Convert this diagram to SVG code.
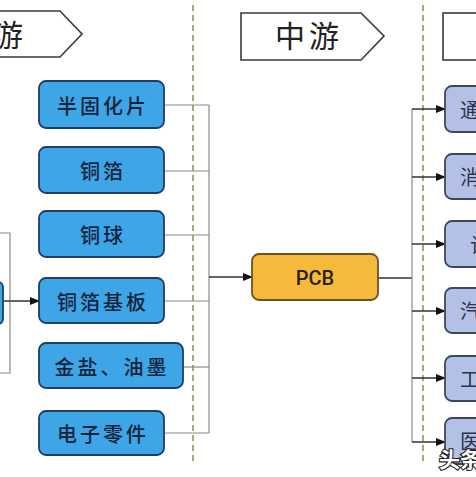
<svg xmlns="http://www.w3.org/2000/svg" width="476" height="477" viewBox="0 0 476 477">
<defs>
<marker id="arr" markerWidth="10" markerHeight="8" refX="9" refY="4" orient="auto" markerUnits="userSpaceOnUse">
<path d="M0,0 L10,4 L0,8 Z" fill="#111"/>
</marker>
<style>
.hdr{fill:#fff;stroke:#3a3a3a;stroke-width:1.6}
.htxt{font-family:"Noto Sans CJK SC",sans-serif;font-size:30px;fill:#222}
.lb{fill:#3EA5E6;stroke:#1E3E63;stroke-width:1.8}
.rb{fill:#B3C1E6;stroke:#3C475F;stroke-width:1.8}
.pcb{fill:#F5BA3C;stroke:#6A5222;stroke-width:1.8}
.t{font-family:"Noto Sans CJK SC",sans-serif;font-size:20px;font-weight:500;fill:#15233A;text-anchor:middle;dominant-baseline:central;letter-spacing:3px}
.rt{font-family:"Noto Sans CJK SC",sans-serif;font-size:20px;fill:#2a3450;dominant-baseline:central}
.dash{stroke:#A9AA72;stroke-width:2;stroke-dasharray:6 4;fill:none}
.ln{stroke:#8a8a8a;stroke-width:1.2;fill:none}
.al{stroke:#333;stroke-width:1.3;fill:none}
</style>
</defs>
<rect width="476" height="477" fill="#fff"/>
<g id="dividers">
<line class="dash" x1="193" y1="5" x2="193" y2="462"/>
<line class="dash" x1="423" y1="5" x2="423" y2="464"/>
</g>
<g id="header-up">
<polygon class="hdr" points="-5,11 60,11 82,34 60,57 -5,57"/>
<text class="htxt" x="-7" y="46">游</text>
</g>
<g id="header-mid">
<polygon class="hdr" points="241,13 361,13 384,36 361,60 241,60"/>
<text class="htxt" x="309" y="47" text-anchor="middle" letter-spacing="4">中游</text>
</g>
<g id="header-down">
<rect class="hdr" x="443" y="13" width="60" height="47"/>
</g>
<g id="connectors">
<polyline class="ln" points="0,233 10,233 10,373 0,373"/>
<line class="al" x1="3" y1="301" x2="39" y2="301" marker-end="url(#arr)"/>
<line class="ln" x1="164" y1="105" x2="209" y2="105"/>
<line class="ln" x1="164" y1="171" x2="209" y2="171"/>
<line class="ln" x1="164" y1="235" x2="209" y2="235"/>
<line class="ln" x1="164" y1="301" x2="209" y2="301"/>
<line class="ln" x1="183" y1="367" x2="209" y2="367"/>
<line class="ln" x1="164" y1="433" x2="209" y2="433"/>
<line class="ln" x1="209" y1="105" x2="209" y2="433"/>
<line class="al" x1="209" y1="277" x2="252" y2="277" marker-end="url(#arr)"/>
<line class="al" x1="378" y1="278" x2="412" y2="278"/>
<line class="ln" x1="412" y1="109" x2="412" y2="442"/>
<line class="al" x1="412" y1="109" x2="445" y2="109" marker-end="url(#arr)"/>
<line class="al" x1="412" y1="177" x2="445" y2="177" marker-end="url(#arr)"/>
<line class="al" x1="412" y1="244" x2="445" y2="244" marker-end="url(#arr)"/>
<line class="al" x1="412" y1="311" x2="445" y2="311" marker-end="url(#arr)"/>
<line class="al" x1="412" y1="378" x2="445" y2="378" marker-end="url(#arr)"/>
<line class="al" x1="412" y1="442" x2="445" y2="442" marker-end="url(#arr)"/>
</g>
<g id="left-partial"><rect class="lb" x="-10" y="282" width="13" height="42" rx="5"/></g>
<g id="n1"><rect class="lb" x="39" y="81" width="125" height="47" rx="7"/><text class="t" x="103" y="105">半固化片</text></g>
<g id="n2"><rect class="lb" x="39" y="147" width="125" height="46" rx="7"/><text class="t" x="103" y="170">铜箔</text></g>
<g id="n3"><rect class="lb" x="39" y="211" width="125" height="46" rx="7"/><text class="t" x="103" y="234">铜球</text></g>
<g id="n4"><rect class="lb" x="39" y="278" width="125" height="45" rx="7"/><text class="t" x="103" y="301">铜箔基板</text></g>
<g id="n5"><rect class="lb" x="39" y="343" width="144" height="45" rx="7"/><text class="t" x="112" y="366">金盐、油墨</text></g>
<g id="n6"><rect class="lb" x="39" y="411" width="125" height="44" rx="7"/><text class="t" x="103" y="433">电子零件</text></g>
<g id="pcb"><rect class="pcb" x="252" y="254" width="126" height="46" rx="7"/><text x="315" y="278" font-family="Roboto, sans-serif" font-weight="500" font-size="20" fill="#2a1e08" text-anchor="middle" dominant-baseline="central">PCB</text></g>
<g id="r1"><rect class="rb" x="445" y="86" width="50" height="46" rx="7"/><text class="rt" x="460" y="109">通</text></g>
<g id="r2"><rect class="rb" x="445" y="154" width="50" height="45" rx="7"/><text class="rt" x="460" y="176">消</text></g>
<g id="r3"><rect class="rb" x="445" y="221" width="50" height="46" rx="7"/><text class="rt" x="470" y="244">计</text></g>
<g id="r4"><rect class="rb" x="445" y="288" width="50" height="45" rx="7"/><text class="rt" x="460" y="310">汽</text></g>
<g id="r5"><rect class="rb" x="445" y="356" width="50" height="45" rx="7"/><text class="rt" x="460" y="378">工</text></g>
<g id="r6"><rect class="rb" x="445" y="418" width="50" height="46" rx="7"/><text class="rt" x="460" y="440">医</text></g>
<g id="watermark"><text x="439" y="467" font-family="Noto Sans CJK SC, sans-serif" font-size="21" font-weight="bold" fill="#fff" stroke="#222" stroke-width="2.2" paint-order="stroke">头条</text></g>
</svg>
